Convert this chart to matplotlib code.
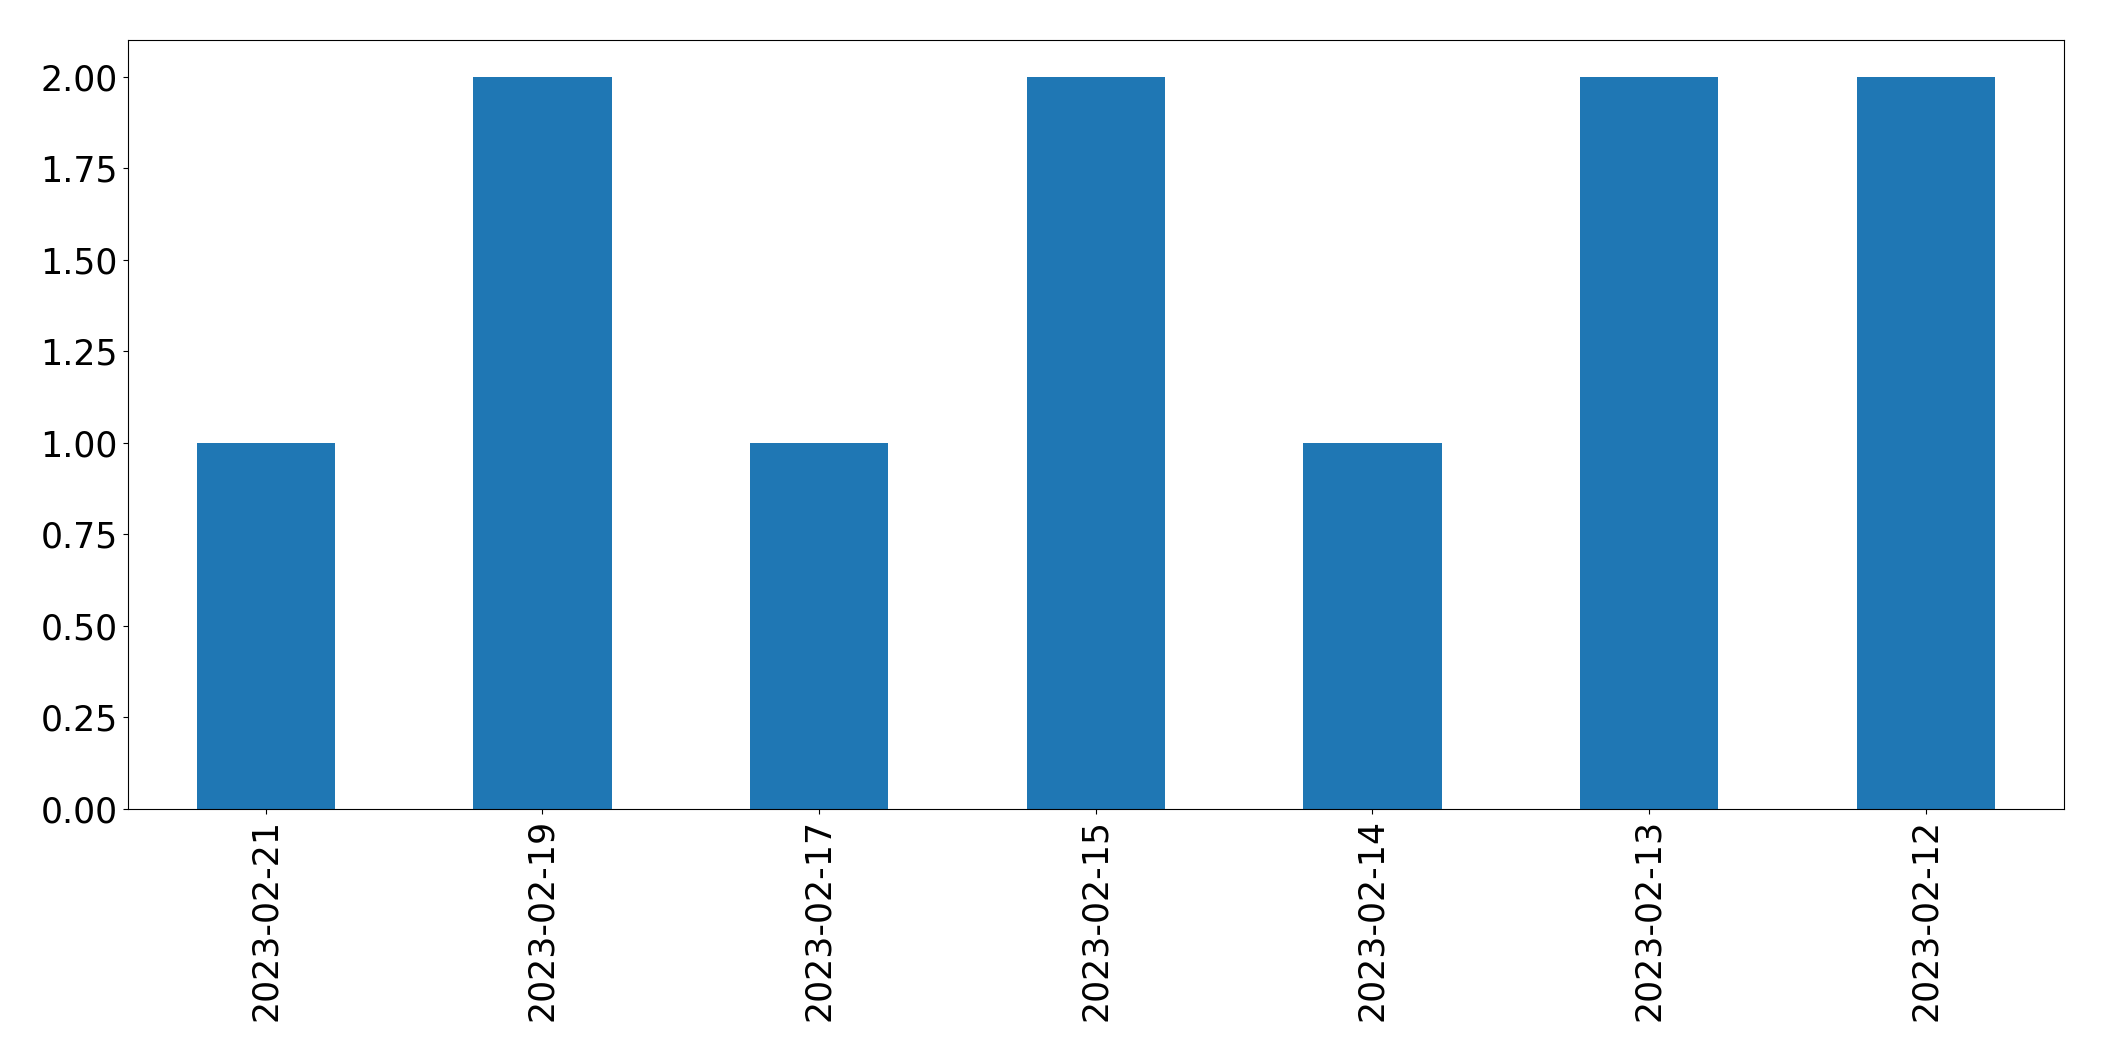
import matplotlib
matplotlib.use("Agg")
import matplotlib.pyplot as plt
import numpy as np

dates = ["2023-02-21", "2023-02-19", "2023-02-17", "2023-02-15",
         "2023-02-14", "2023-02-13", "2023-02-12"]
counts = [1, 2, 1, 2, 1, 2, 2]

fig = plt.figure(figsize=(21.04, 10.61), dpi=100)
ax = fig.add_axes([127.5 / 2104, 1 - 809 / 1061, (2064 - 127.5) / 2104, (809 - 40) / 1061])

x = np.arange(len(dates))
ax.bar(x, counts, width=0.5, color="#1f77b4")
ax.set_xlim(-0.5, len(dates) - 0.5)
ax.set_ylim(0, 2.1)
ax.set_yticks(np.arange(0, 2.01, 0.25))
ax.set_xticks(x)
ax.set_xticklabels(dates, rotation=90)
ax.tick_params(labelsize=25)

fig.savefig("out.png", dpi=100)
